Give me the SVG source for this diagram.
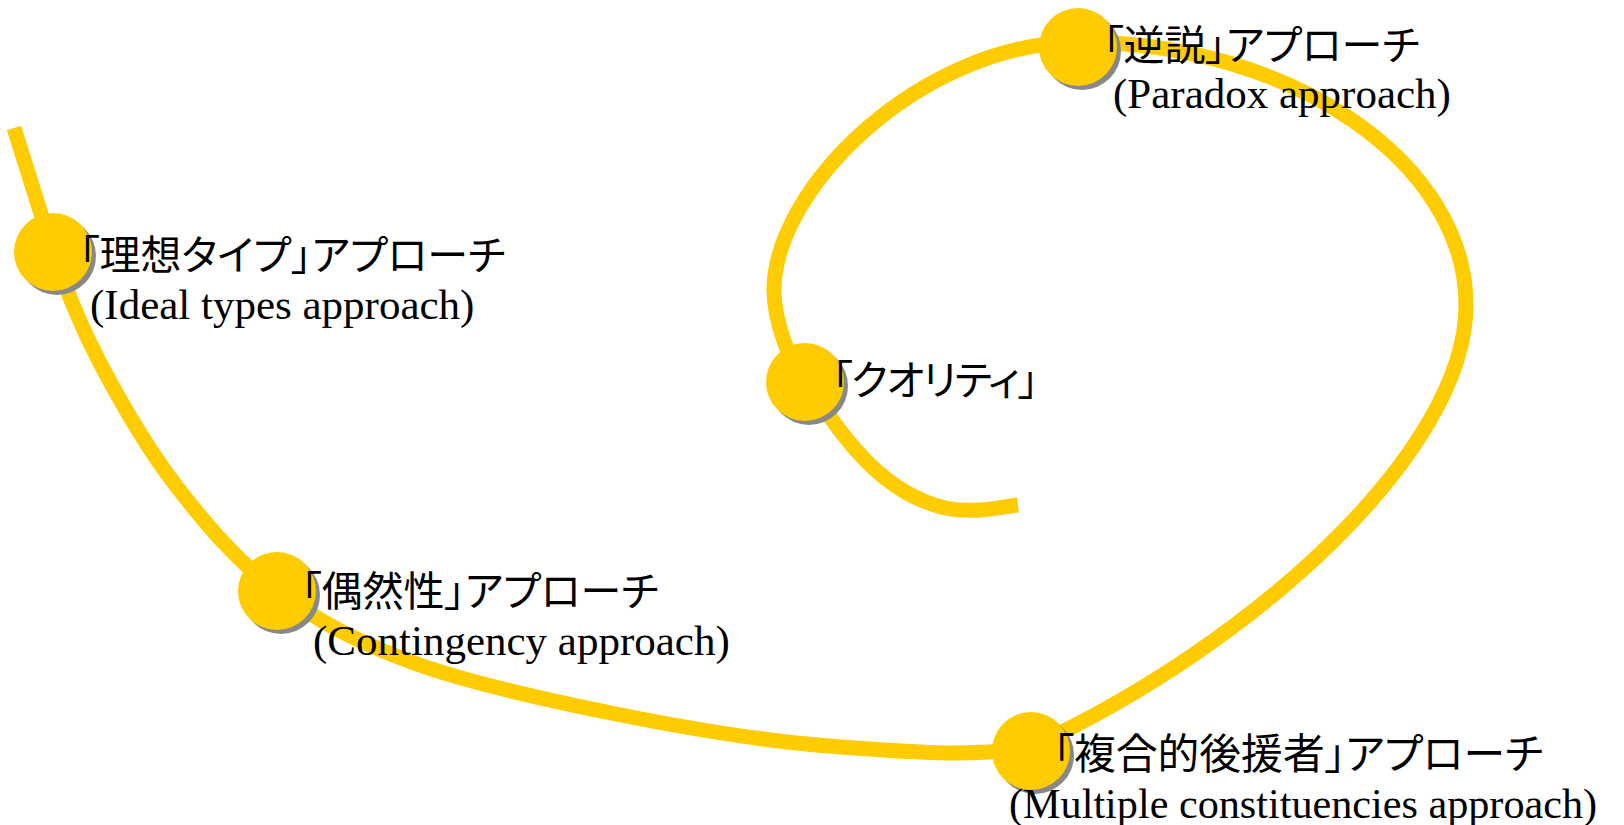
<svg xmlns="http://www.w3.org/2000/svg" width="1624" height="825" viewBox="0 0 1624 825">
<style>
.line{fill:none;stroke:#FFCC00;stroke-width:15;stroke-linecap:butt;stroke-linejoin:round}
.dot{fill:#FFCC00}
.shadow{fill:#888888}
.jp{font-family:"Noto Sans CJK JP","Noto Sans CJK SC",sans-serif;font-size:41px;fill:#000;font-feature-settings:"palt"}
.en{font-family:"Liberation Serif","Times New Roman",serif;font-size:43px;fill:#000}
</style>
<rect width="1624" height="825" fill="#ffffff"/>
<g id="connectors">
<path class="line" d="M14 128 L53 252 C67.3 291.2 79.3 323.8 100 363 C120.7 402.2 147.5 449 177 487 C206.5 525 237.5 561.7 277 591 C316.5 620.3 356.7 642.3 414 663 C471.3 683.7 551.8 701.2 621 715 C690.2 728.8 760.7 740.7 829 746 C897.3 751.3 973.7 758 1031 747 C1256 643 1466 450 1466 305 C1466 164 1294 42 1078 42 C918 44 774 190 774 290 C774 322 790 362 805 382 C835 422 872 490 945 508 C975 514 1000 507 1018 505"/>
</g>
<g id="node-ideal">
<circle class="shadow" cx="57" cy="256" r="39"/>
<circle class="dot" cx="53" cy="252" r="39"/>
<text class="jp" x="79" y="270">「理想タイプ」アプローチ</text>
<text class="en" x="90" y="319">(Ideal types approach)</text>
</g>
<g id="node-contingency">
<circle class="shadow" cx="281" cy="595" r="39"/>
<circle class="dot" cx="277" cy="591" r="39"/>
<text class="jp" x="301" y="606">「偶然性」アプローチ</text>
<text class="en" x="313" y="655">(Contingency approach)</text>
</g>
<g id="node-multiple">
<circle class="shadow" cx="1035" cy="755" r="39"/>
<circle class="dot" cx="1031" cy="751" r="39"/>
<text class="jp" x="1053" y="769" style="font-size:41.8px">「複合的後援者」アプローチ</text>
<text class="en" x="1009" y="818" style="font-size:42.2px">(Multiple constituencies approach)</text>
</g>
<g id="node-paradox">
<circle class="shadow" cx="1082" cy="51" r="39"/>
<circle class="dot" cx="1078" cy="47" r="39"/>
<text class="jp" x="1103" y="60">「逆説」アプローチ</text>
<text class="en" x="1113" y="108">(Paradox approach)</text>
</g>
<g id="node-quality">
<circle class="shadow" cx="809" cy="386" r="39"/>
<circle class="dot" cx="805" cy="382" r="39"/>
<text class="jp" x="832" y="395" style="letter-spacing:-1.5px">「クオリティ」</text>
</g>
</svg>
